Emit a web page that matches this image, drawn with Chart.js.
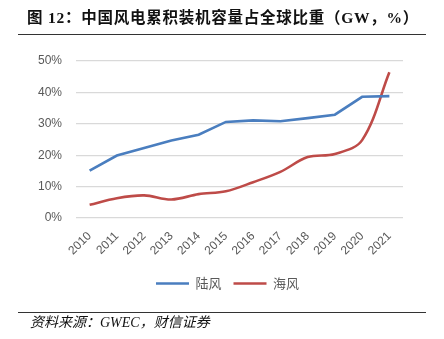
<!DOCTYPE html>
<html><head><meta charset="utf-8">
<script src="https://cdn.jsdelivr.net/npm/chart.js@4/dist/chart.umd.min.js"></script>
<style>
html,body{margin:0;padding:0;background:#fff;}
#wrap{position:relative;width:444px;height:339px;overflow:hidden;}
#c{position:absolute;left:0;top:0;}
#title{position:absolute;left:27px;top:5px;font-family:"Liberation Serif","Noto Sans CJK SC",serif;font-weight:bold;font-size:15.5px;color:#111;white-space:nowrap;letter-spacing:0.75px;}
#tline{position:absolute;left:18px;width:408px;top:34px;height:1px;background:#333;}
#bline{position:absolute;left:18px;width:408px;top:312px;height:1px;background:#333;}
#src{position:absolute;left:30px;top:311px;font-family:"Liberation Serif","Noto Sans CJK SC",serif;font-style:italic;font-size:14px;color:#111;white-space:nowrap;}
</style></head>
<body>
<div id="wrap">
<canvas id="c" width="444" height="339"></canvas>
<div id="title">图 12：中国风电累积装机容量占全球比重（GW，%）</div>
<div id="tline"></div>
<div id="bline"></div>
<div id="src">资料来源：GWEC，财信证券</div>
</div>
<script>
const years = ["2010","2011","2012","2013","2014","2015","2016","2017","2018","2019","2020","2021"];
const onshore = [15.1, 19.9, 22.3, 24.7, 26.5, 30.6, 31.1, 30.8, 31.8, 32.9, 38.6, 38.8];
const offshore = [4.2, 6.3, 7.2, 5.9, 7.6, 8.5, 11.4, 14.7, 19.4, 20.4, 24.8, 46.4];
const seriesNames = ["陆风", "海风"];
const yTicks = [0, 10, 20, 30, 40, 50];

const shiftLegend = {
  id: 'shiftLegend',
  afterLayout(chart) {
    const lg = chart.legend;
    if (lg) { lg.left += 7; lg.right += 7; }
  }
};

new Chart(document.getElementById('c'), {
  type: 'line',
  plugins: [shiftLegend],
  data: {
    labels: years,
    datasets: [
      {label: seriesNames[0], data: onshore, borderColor: '#4A7EBF', backgroundColor: '#4A7EBF', borderWidth: 2.6, pointRadius: 0, tension: 0, fill: false},
      {label: seriesNames[1], data: offshore, borderColor: '#BE4B48', backgroundColor: '#BE4B48', borderWidth: 2.6, pointRadius: 0, tension: 0.35, fill: false}
    ]
  },
  options: {
    responsive: false,
    animation: false,
    devicePixelRatio: 1,
    layout: {padding: {left: 38, right: 41, top: 61, bottom: 39}},
    plugins: {
      tooltip: {enabled: false},
      legend: {
        position: 'bottom',
        labels: {
          usePointStyle: true, pointStyle: 'line', pointStyleWidth: 33,
          boxWidth: 33, boxHeight: 13,
          padding: 12, color: '#595959',
          font: {family: '"Noto Sans CJK SC"', size: 13}
        }
      }
    },
    scales: {
      x: {
        offset: true,
        grid: {display: false, drawTicks: false},
        border: {display: false},
        ticks: {color: '#595959', font: {family: '"Liberation Sans"', size: 12}, minRotation: 45, maxRotation: 45, padding: 11},
        afterFit: (s) => { s.height = 47; }
      },
      y: {
        min: 0, max: 50,
        afterBuildTicks: (s) => { s.ticks = yTicks.map(v => ({value: v})); },
        grid: {color: '#D9D9D9', lineWidth: 1.3, drawTicks: false},
        border: {display: false},
        ticks: {color: '#595959', font: {family: '"Liberation Sans"', size: 12}, padding: 14, callback: v => v + '%'},
        afterFit: (s) => { s.width = 38; }
      }
    }
  }
});
</script>
</body></html>
